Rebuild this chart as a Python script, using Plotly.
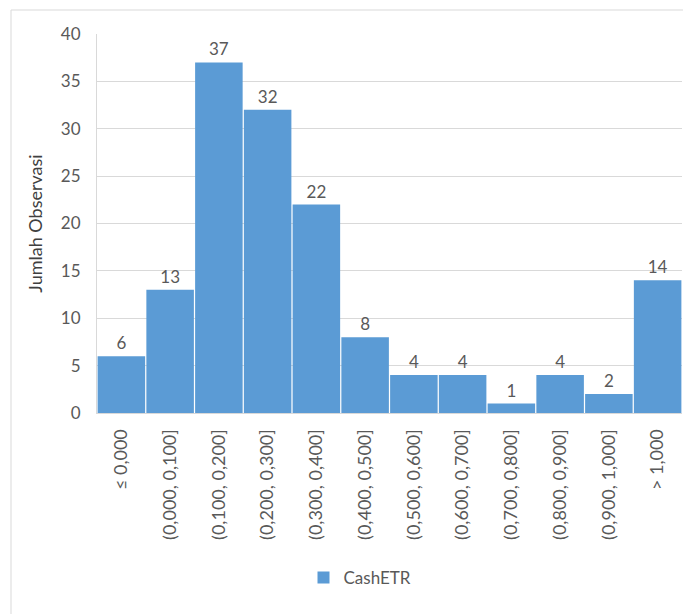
import plotly.graph_objects as go

categories = ["≤ 0,000", "(0,000, 0,100]", "(0,100, 0,200]", "(0,200, 0,300]",
              "(0,300, 0,400]", "(0,400, 0,500]", "(0,500, 0,600]", "(0,600, 0,700]",
              "(0,700, 0,800]", "(0,800, 0,900]", "(0,900, 1,000]", "> 1,000"]
counts = [6, 13, 37, 32, 22, 8, 4, 4, 1, 4, 2, 14]
series_name = "CashETR"
y_ticks = [0, 5, 10, 15, 20, 25, 30, 35, 40]

W, H = 683, 614
ml, mr, mt, mb = 97, 1, 34, 201
pw, ph = W - ml - mr, H - mt - mb

def px_x(x):
    return (x - ml) / pw

def px_y(y):
    return (H - mb - y) / ph

fig = go.Figure()
fig.add_trace(go.Bar(
    x=categories, y=counts, name=series_name,
    marker=dict(color="#5B9BD5", line=dict(width=0)),
    text=[str(v) for v in counts], textposition="outside",
    textfont=dict(color="#595959", size=17),
    cliponaxis=False, showlegend=True,
))

fig.update_layout(
    width=W, height=H,
    margin=dict(l=ml, r=mr, t=mt, b=mb),
    paper_bgcolor="white", plot_bgcolor="white",
    font=dict(family="Lato", color="#595959", size=17),
    bargap=0.025,
    xaxis=dict(
        tickangle=-90, showgrid=False, showline=True, linecolor="#D9D9D9", linewidth=1,
        tickfont=dict(size=18, color="#595959"), ticks="", ticklabelstandoff=8,
    ),
    yaxis=dict(
        range=[0, 40], tickvals=y_ticks, showgrid=True, gridcolor="#D9D9D9", gridwidth=1,
        showline=True, linecolor="#D9D9D9", linewidth=1, zeroline=False,
        tickfont=dict(size=17, color="#595959"), ticks="", ticklabelstandoff=12,
        title=dict(text="Jumlah Observasi", font=dict(size=18, color="#404040"), standoff=13),
    ),
    legend=dict(orientation="h", x=px_x(360), y=px_y(578), xanchor="center", yanchor="middle",
                font=dict(size=17, color="#595959"), itemwidth=30),
    shapes=[dict(type="rect", xref="paper", yref="paper",
                 x0=px_x(11), x1=px_x(690), y0=px_y(620), y1=px_y(10),
                 line=dict(color="#D9D9D9", width=1), fillcolor="rgba(0,0,0,0)", layer="below")],
)

fig.write_html("out.html")
